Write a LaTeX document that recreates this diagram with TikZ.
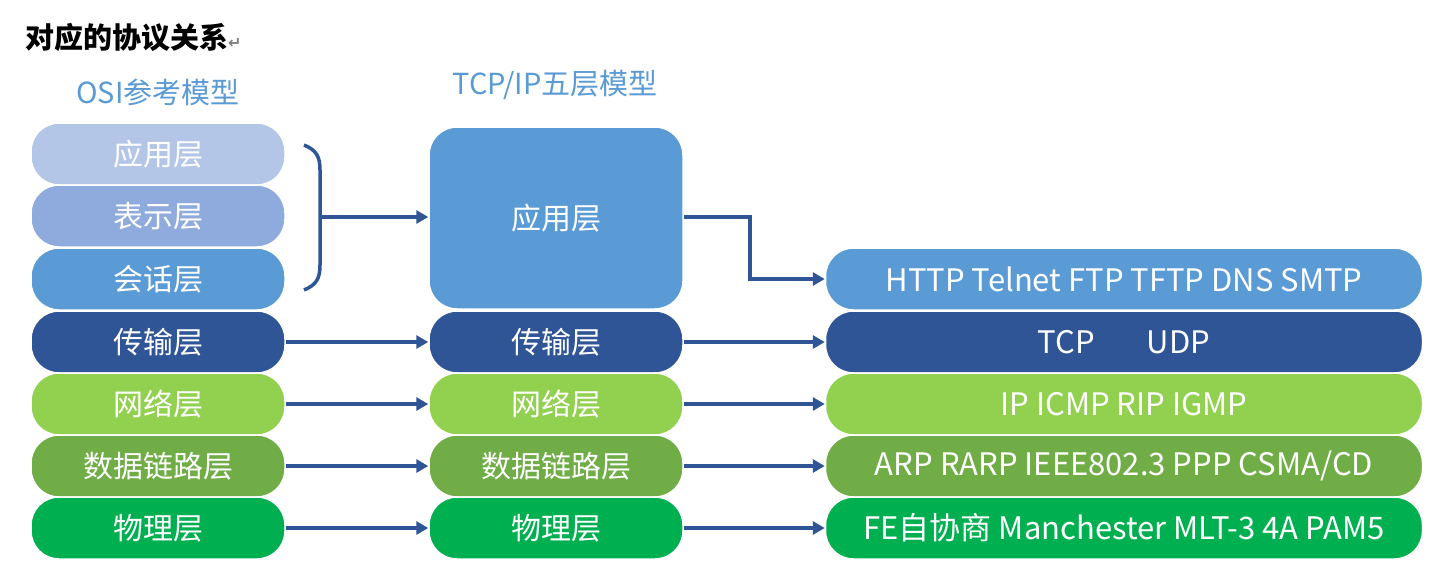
\documentclass[tikz,border=0pt]{standalone}
\usepackage{fontspec}
\setmainfont{Noto Sans CJK SC}
\newfontfamily\symfont{DejaVu Sans}
\usetikzlibrary{arrows.meta}
\definecolor{cA}{HTML}{B4C6E7}
\definecolor{cB}{HTML}{8FAADC}
\definecolor{cC}{HTML}{5B9BD5}
\definecolor{cD}{HTML}{2F5597}
\definecolor{cE}{HTML}{92D050}
\definecolor{cF}{HTML}{70AD47}
\definecolor{cG}{HTML}{00B050}
\definecolor{arr}{HTML}{2F5597}
\definecolor{ttl}{HTML}{5B9BD5}
\begin{document}
\begin{tikzpicture}[x=1pt,y=-1pt,
  box/.style={rounded corners=28pt, draw=white, line width=1.5pt, text=white, font=\fontsize{30}{34}\selectfont, minimum height=62pt, inner sep=0pt},
  lb/.style={box, minimum width=254pt},
  rb/.style={box, minimum width=597pt, font=\fontsize{31}{36}\selectfont},
  con/.style={draw=arr, line width=3.5pt, -{Triangle[length=12pt,width=13pt]}}]
\useasboundingbox (0,0) rectangle (1430,566);
\fill[white] (0,0) rectangle (1430,566);
\node[anchor=west, inner sep=0pt, font=\fontsize{29}{32}\selectfont\bfseries] (title) at (25,37) {对应的协议关系\textcolor{gray}{\symfont\fontsize{16}{18}\selectfont ↵}};
\node[text=ttl, font=\fontsize{29}{32}\selectfont] (osi) at (158,92) {OSI参考模型};
\node[text=ttl, font=\fontsize{29}{32}\selectfont] (tcpip) at (555,85) {TCP/IP五层模型};
% left column
\node[lb, fill=cA] (l1) at (158,154) {应用层};
\node[lb, fill=cB] (l2) at (158,216) {表示层};
\node[lb, fill=cC] (l3) at (158,279) {会话层};
\node[lb, fill=cD] (l4) at (158,342) {传输层};
\node[lb, fill=cE] (l5) at (158,404) {网络层};
\node[lb, fill=cF] (l6) at (158,466) {数据链路层};
\node[lb, fill=cG] (l7) at (158,528) {物理层};
% middle column
\node[box, fill=cC, minimum width=254pt, minimum height=182pt] (m1) at (556,218) {应用层};
\node[lb, fill=cD] (m4) at (556,342) {传输层};
\node[lb, fill=cE] (m5) at (556,404) {网络层};
\node[lb, fill=cF] (m6) at (556,466) {数据链路层};
\node[lb, fill=cG] (m7) at (556,528) {物理层};
% right column
\node[rb, fill=cC] (r1) at (1124,279) {HTTP Telnet FTP TFTP DNS SMTP};
\node[rb, fill=cD] (r4) at (1124,342) {TCP\hspace{52pt}UDP};
\node[rb, fill=cE] (r5) at (1124,404) {IP ICMP RIP IGMP};
\node[rb, fill=cF] (r6) at (1124,466) {ARP RARP IEEE802.3 PPP CSMA/CD};
\node[rb, fill=cG] (r7) at (1124,528) {FE自协商 Manchester MLT-3 4A PAM5};
% brace
\coordinate (bt) at (304,145);
\coordinate (bb) at (304,290);
\coordinate (bm) at (320,217);
\draw[arr, line width=3.5pt] (bt) .. controls (316,150) and (320,156) .. (320,170) -- (320,265) .. controls (320,279) and (316,285) .. (bb);
\draw[con] (bm) -- (m1.west |- bm);
% app to protocols
\coordinate (k1) at (750,217);
\draw[con] (m1.east |- k1) -- (k1) |- (r1.west);
% rows
\foreach \i in {4,5,6,7} {
  \draw[con] (l\i.east) -- (m\i.west);
  \draw[con] (m\i.east) -- (r\i.west);
}
\end{tikzpicture}
\end{document}
